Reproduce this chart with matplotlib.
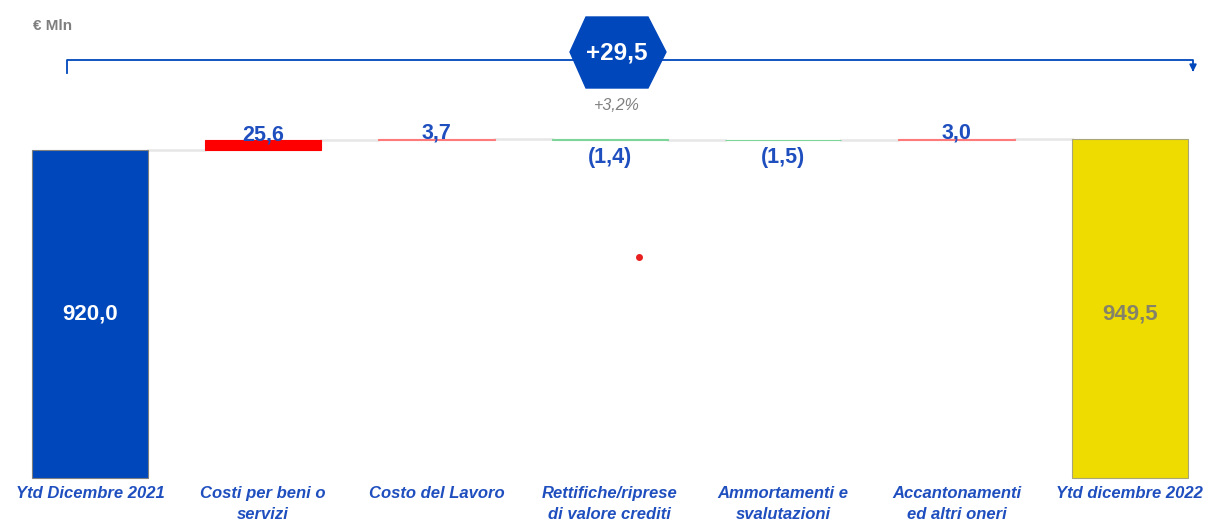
import matplotlib.pyplot as plt
from matplotlib.patches import Polygon
import numpy as np

plt.rcParams['font.family'] = ['Liberation Sans', 'DejaVu Sans']

# data
categorie = ['Ytd Dicembre 2021', 'Costi per beni o\nservizi', 'Costo del Lavoro',
             'Rettifiche/riprese\ndi valore crediti', 'Ammortamenti e\nsvalutazioni',
             'Accantonamenti\ned altri oneri', 'Ytd dicembre 2022']
inizio = 920.0
variazioni = [25.6, 3.7, -1.4, -1.5, 3.0]
fine = 949.5
etichette = ['920,0', '25,6', '3,7', '(1,4)', '(1,5)', '3,0', '949,5']
delta_tot = '+29,5'
delta_pct = '+3,2%'

BLU = '#0047BB'
TXT = '#1F4FBF'
W, H = 1214, 520

fig = plt.figure(figsize=(W / 100, H / 100), dpi=100)
ax = fig.add_axes([0, 0, 1, 1])
ax.set_xlim(-0.519, 6.486)
ax.set_ylim(-117.6, 1339)
ax.axis('off')

x = np.arange(len(categorie))
livelli = np.concatenate([[inizio], inizio + np.cumsum(variazioni)])
bw = 0.67

# barre iniziale e finale
ax.bar(x[0], inizio, bw, color=BLU, edgecolor='#7f7f7f', lw=0.8, zorder=3)
ax.bar(x[-1], fine, bw, color='#EEDC00', edgecolor='#A8A57A', lw=0.8, zorder=3)

# barre intermedie
for i, v in enumerate(variazioni):
    base = livelli[i]
    if v > 0:
        col = '#FF0000' if v > 10 else '#FF7B7B'
    else:
        col = '#7DD59A'
    ax.bar(x[i + 1], v, bw, bottom=base, color=col, edgecolor=col, lw=0.8, zorder=3)

# linee di collegamento
for i in range(len(x) - 1):
    ax.plot([x[i] + bw / 2, x[i + 1] - bw / 2], [livelli[min(i, len(livelli) - 1)]] * 2,
            color='#E6E6E6', lw=1.8, zorder=2)

# etichette valori
ax.text(x[0], inizio / 2, etichette[0], ha='center', va='center', color='white',
        fontsize=16, fontweight='bold')
ax.text(x[-1], inizio / 2, etichette[-1], ha='center', va='center', color='#85826A',
        fontsize=16, fontweight='bold')
for i, v in enumerate(variazioni):
    top = max(livelli[i], livelli[i + 1])
    bot = min(livelli[i], livelli[i + 1])
    if v > 0:
        ax.annotate(etichette[i + 1], (x[i + 1], top), xytext=(0, -3.5), textcoords='offset points',
                    ha='center', va='bottom', color=TXT, fontsize=15.5, fontweight='bold', zorder=5)
    else:
        ax.annotate(etichette[i + 1], (x[i + 1], bot), xytext=(0, -5), textcoords='offset points',
                    ha='center', va='top', color=TXT, fontsize=15.5, fontweight='bold')

# etichette categorie
for xi, c in zip(x, categorie):
    ax.annotate(c, (xi, 0), xytext=(0, -6), textcoords='offset points', ha='center', va='top',
                color=TXT, fontsize=12, fontweight='bold', style='italic', linespacing=1.45)

# parentesi con freccia
yb = 1171
ax.plot([-0.133, -0.133, 6.365, 6.365], [1134, yb, yb, 1150], color=BLU, lw=1.3, zorder=4)
ax.annotate('', xy=(6.365, 1130), xytext=(6.365, 1152),
            arrowprops=dict(arrowstyle='-|>', color=BLU, lw=1.3, mutation_scale=10), zorder=4)

# esagono
hx = np.array([570, 586, 648, 666, 648, 586]) / W
hy = 1 - np.array([52, 17, 17, 52, 88, 88]) / H
fig.patches.append(Polygon(np.column_stack([hx, hy]), closed=True, transform=fig.transFigure,
                           facecolor=BLU, edgecolor=BLU, zorder=5))
fig.text(617 / W, 1 - 53 / H, delta_tot, ha='center', va='center', color='white',
         fontsize=17.5, fontweight='bold', zorder=6)
fig.text(617 / W, 1 - 106 / H, delta_pct, ha='center', va='center', color='#808080',
         fontsize=11.5, style='italic')

fig.text(33 / W, 1 - 26 / H, '€ Mln', ha='left', va='center', color='#7f7f7f',
         fontsize=11, fontweight='bold')

# punto rosso
ax.plot(3.17, 619, 'o', color='#E82020', ms=4, zorder=4)

fig.savefig('out.png', dpi=100)
